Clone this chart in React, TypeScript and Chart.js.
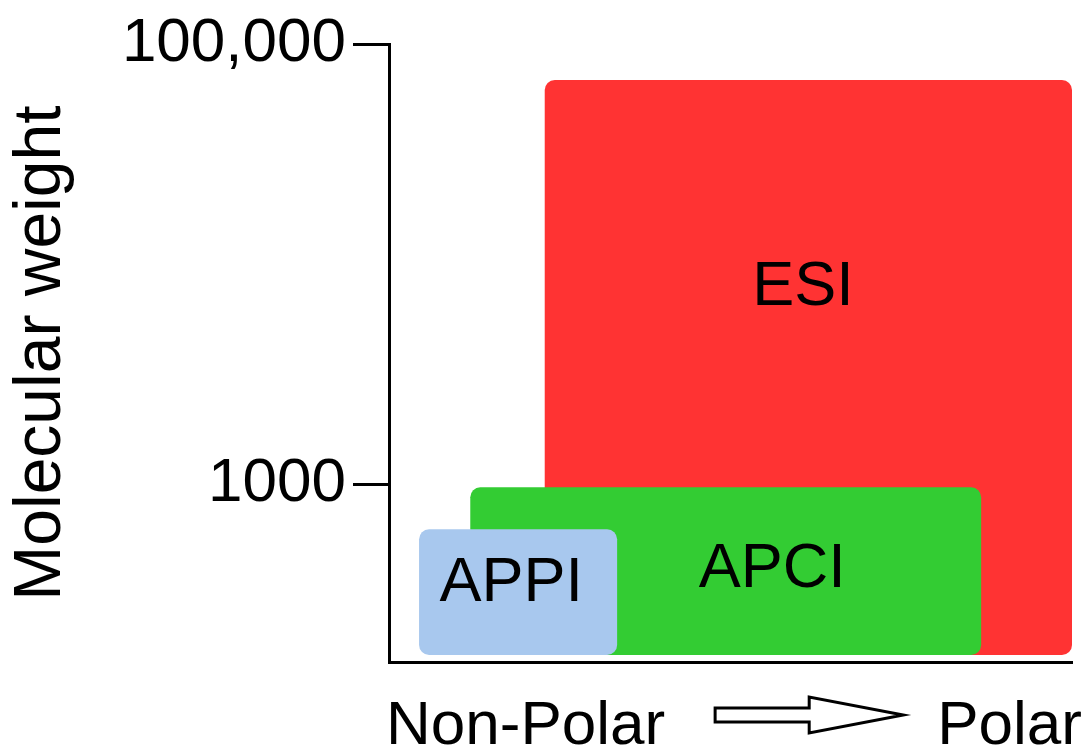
import React, { useEffect, useRef } from "react";
import { Chart, registerables } from "chart.js";

Chart.register(...registerables);

// ---- data ----
const techniques = ["ESI", "APCI", "APPI"];
const polarityStart = [22.8, 11.9, 4.4];
const polarityEnd = [100, 86.7, 33.4];
const massLow = [168, 168, 168];
const massHigh = [68700, 970, 625];
const labelPolarity = [60.6, 56.1, 17.9];
const labelMass = [7870, 408, 353];
const colors = ["#FF3333", "#33CC33", "#A8C8EE"];

const yTickValues = [1000, 100000];
const yTickLabels = ["1000", "100,000"];
const yMin = 156;
const yMax = 100000;
const xMin = 0;
const xMax = 100;

const xLabelLeft = "Non-Polar";
const xLabelRight = "Polar";
const yTitle = "Molecular weight";

const FONT = '"Liberation Sans", Arial, sans-serif';

const boxesPlugin = {
  id: "boxes",
  afterDatasetsDraw(chart: any) {
    const { ctx, scales } = chart;
    const x = scales.x;
    const y = scales.y;
    ctx.save();
    for (let i = 0; i < techniques.length; i++) {
      const l = x.getPixelForValue(polarityStart[i]);
      const r = x.getPixelForValue(polarityEnd[i]);
      const t = y.getPixelForValue(massHigh[i]);
      const b = y.getPixelForValue(massLow[i]);
      ctx.fillStyle = colors[i];
      ctx.beginPath();
      ctx.roundRect(l, t, r - l, b - t, 10);
      ctx.fill();
      ctx.fillStyle = "#000";
      ctx.font = `63px ${FONT}`;
      ctx.textAlign = "center";
      ctx.textBaseline = "middle";
      ctx.fillText(
        techniques[i],
        x.getPixelForValue(labelPolarity[i]),
        y.getPixelForValue(labelMass[i])
      );
    }
    ctx.restore();
  },
  afterDraw(chart: any) {
    const { ctx, chartArea } = chart;
    ctx.save();
    ctx.fillStyle = "#000";
    ctx.font = `62px ${FONT}`;
    ctx.textBaseline = "alphabetic";
    const baseY = chartArea.bottom + 82;
    ctx.textAlign = "left";
    const leftX = chartArea.left - 3;
    ctx.fillText(xLabelLeft, leftX, baseY);
    const leftW = ctx.measureText(xLabelLeft).width;
    ctx.textAlign = "right";
    const rightX = chartArea.right + 10;
    ctx.fillText(xLabelRight, rightX, baseY);
    const rightW = ctx.measureText(xLabelRight).width;

    // hollow arrow between the two labels
    const a0 = leftX + leftW + 50;
    const a1 = rightX - rightW - 34;
    const cy = chartArea.bottom + 53;
    const headStart = a0 + (a1 - a0) * 0.5;
    ctx.beginPath();
    ctx.moveTo(a0, cy - 7);
    ctx.lineTo(headStart, cy - 7);
    ctx.lineTo(headStart, cy - 18);
    ctx.lineTo(a1, cy);
    ctx.lineTo(headStart, cy + 18);
    ctx.lineTo(headStart, cy + 7);
    ctx.lineTo(a0, cy + 7);
    ctx.closePath();
    ctx.fillStyle = "#fff";
    ctx.fill();
    ctx.lineWidth = 3;
    ctx.strokeStyle = "#000";
    ctx.lineJoin = "miter";
    ctx.stroke();
    ctx.restore();
  },
};

export default function App() {
  const canvasRef = useRef<HTMLCanvasElement | null>(null);

  useEffect(() => {
    if (!canvasRef.current) return;
    const chart = new Chart(canvasRef.current, {
      type: "scatter",
      data: { datasets: [] },
      options: {
        animation: false,
        responsive: false,
        devicePixelRatio: 1,
        layout: { padding: { top: 42, right: 16, left: 0, bottom: 0 } },
        plugins: {
          legend: { display: false },
          tooltip: { enabled: false },
        },
        scales: {
          x: {
            type: "linear",
            min: xMin,
            max: xMax,
            ticks: { display: false },
            grid: { display: false },
            border: { display: true, color: "#000", width: 3 },
            afterFit: (scale: any) => {
              scale.height = 87;
            },
          },
          y: {
            type: "logarithmic",
            min: yMin,
            max: yMax,
            afterBuildTicks: (scale: any) => {
              scale.ticks = yTickValues.map((v) => ({ value: v }));
            },
            afterFit: (scale: any) => {
              scale.width = 389;
            },
            ticks: {
              autoSkip: false,
              padding: 7,
              color: "#000",
              font: { family: FONT, size: 62 },
              callback: (value: any) => {
                const idx = yTickValues.indexOf(Number(value));
                return idx >= 0 ? yTickLabels[idx] : "";
              },
            },
            grid: {
              drawOnChartArea: false,
              drawTicks: true,
              tickLength: 36,
              tickWidth: 3,
              tickColor: "#000",
            },
            border: { display: true, color: "#000", width: 3 },
            title: {
              display: true,
              text: yTitle,
              color: "#000",
              font: { family: FONT, size: 66 },
              padding: { top: 2, bottom: 0 },
            },
          },
        },
      },
      plugins: [boxesPlugin],
    });
    return () => chart.destroy();
  }, []);

  return (
    <div
      style={{
        position: "fixed",
        left: 0,
        top: 0,
        width: 1088,
        height: 749,
        background: "#fff",
      }}
    >
      <canvas ref={canvasRef} width={1088} height={749} style={{ display: "block" }} />
    </div>
  );
}
